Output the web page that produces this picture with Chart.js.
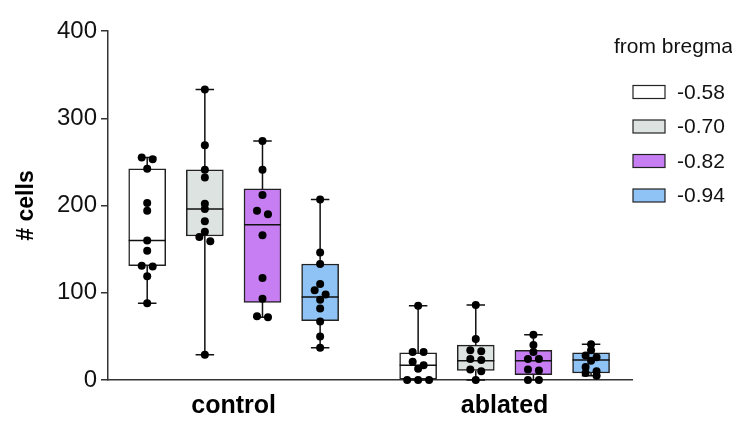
<!DOCTYPE html>
<html>
<head>
<meta charset="utf-8">
<script src="https://cdn.jsdelivr.net/npm/chart.js@4.4.1/dist/chart.umd.min.js"></script>
<style>
  html, body { margin: 0; padding: 0; background: #fff; }
  #wrap { width: 732px; height: 428px; }
</style>
</head>
<body>
<div id="wrap"><canvas id="chart"></canvas></div>
<script>
const groups = ['control', 'ablated'];
const series = ['-0.58', '-0.70', '-0.82', '-0.94'];
const fillColors = ['#ffffff', '#dde3e0', '#c67ef2', '#8fc3f6'];

// box stats, one row per series: [control, ablated]
const mins    = [[88, 0],   [29, 0],   [72, 0],   [37, 5]];
const q1s     = [[131, 0],  [165, 11], [89, 6],   [68, 8]];
const medians = [[160, 17], [196, 22], [178, 22], [95, 23]];
const q3s     = [[242, 31], [241, 40], [219, 34], [133, 31]];
const maxs    = [[255, 85], [333, 86], [274, 52], [207, 41]];

// single animals, one row per series: [control, ablated]
const pts058 = [[255, 253, 242, 203, 194, 160, 148, 131, 130, 119, 88], [85, 32, 32, 21, 17, 13, 0, 0, 0]];
const pts070 = [[333, 269, 241, 232, 202, 196, 182, 170, 164, 159, 29], [86, 47, 34, 33, 24, 23, 12, 10, 0]];
const pts082 = [[274, 241, 212, 194, 190, 166, 117, 93, 73, 72], [52, 40, 32, 24, 24, 12, 11, 0, 0]];
const pts094 = [[207, 146, 133, 110, 103, 98, 92, 82, 67, 50, 37], [41, 34, 28, 26, 22, 15, 10, 8, 5]];
const points = [pts058, pts070, pts082, pts094];

const groupStep = 4.7;
const slot = (g, s) => g * groupStep + s;
const font = '"Liberation Sans", Arial, sans-serif';

// spread points of near-equal value side by side
function swarm(values, cx) {
    const sorted = values.slice().sort((a, b) => b - a);
    const rows = [];
    sorted.forEach(v => {
        const row = rows[rows.length - 1];
        if (row && row[0] - v < 5.5) row.push(v);
        else rows.push([v]);
    });
    const out = [];
    rows.forEach(row => {
        row.forEach((v, k) => out.push({ x: cx + (k - (row.length - 1) / 2) * 0.19, y: v }));
    });
    return out;
}

const boxDatasets = series.map((name, s) => ({
    type: 'bar',
    label: name,
    order: 1,
    data: groups.map((g, gi) => ({ x: slot(gi, s), y: [q1s[s][gi], q3s[s][gi]] })),
    backgroundColor: fillColors[s],
    borderColor: '#222',
    borderWidth: 1.5,
    borderSkipped: false,
    barThickness: 37,
    grouped: false
}));

const dotDatasets = series.map((name, s) => ({
    type: 'scatter',
    label: name + ' animals',
    order: 0,
    clip: false,
    data: groups.flatMap((g, gi) => swarm(points[s][gi], slot(gi, s))),
    pointRadius: 4,
    backgroundColor: '#000',
    borderWidth: 0
}));

const whiskers = {
    id: 'whiskers',
    afterDatasetDraw(chart, args) {
        if (args.meta.type !== 'bar') return;
        const s = series.indexOf(chart.data.datasets[args.index].label);
        if (s < 0) return;
        const y = chart.scales.y;
        const ctx = chart.ctx;
        ctx.save();
        ctx.strokeStyle = '#111';
        ctx.lineWidth = 1.5;
        args.meta.data.forEach((bar, gi) => {
            const x = bar.x, half = bar.width / 2;
            const yMin = y.getPixelForValue(mins[s][gi]);
            const yMax = y.getPixelForValue(maxs[s][gi]);
            const yQ1 = y.getPixelForValue(q1s[s][gi]);
            const yQ3 = y.getPixelForValue(q3s[s][gi]);
            const yMed = y.getPixelForValue(medians[s][gi]);
            ctx.beginPath();
            ctx.moveTo(x, yQ3); ctx.lineTo(x, yMax);
            ctx.moveTo(x, yQ1); ctx.lineTo(x, yMin);
            ctx.moveTo(x - half / 2, yMax); ctx.lineTo(x + half / 2, yMax);
            ctx.moveTo(x - half / 2, yMin); ctx.lineTo(x + half / 2, yMin);
            ctx.moveTo(x - half, yMed); ctx.lineTo(x + half, yMed);
            ctx.stroke();
        });
        ctx.restore();
    }
};

const sideLegend = {
    id: 'sideLegend',
    afterDraw(chart) {
        const ctx = chart.ctx;
        ctx.save();
        ctx.textBaseline = 'middle';
        ctx.textAlign = 'left';
        ctx.fillStyle = '#111';
        ctx.font = '21px ' + font;
        ctx.fillText('from bregma', 614, 47);
        series.forEach((name, s) => {
            const cy = 92 + s * 34.5;
            ctx.fillStyle = fillColors[s];
            ctx.fillRect(633, cy - 6.5, 32, 13);
            ctx.strokeStyle = '#222';
            ctx.lineWidth = 1.2;
            ctx.strokeRect(633, cy - 6.5, 32, 13);
            ctx.fillStyle = '#111';
            ctx.fillText(name, 677, cy + 1);
        });
        ctx.restore();
    }
};

new Chart(document.getElementById('chart'), {
    type: 'bar',
    data: { datasets: [...dotDatasets, ...boxDatasets] },
    plugins: [whiskers, sideLegend],
    options: {
        responsive: true,
        maintainAspectRatio: false,
        animation: false,
        events: [],
        layout: { padding: { top: 31, right: 100, bottom: 0, left: 0 } },
        plugins: { legend: { display: false }, tooltip: { enabled: false } },
        scales: {
            x: {
                type: 'linear',
                offset: false,
                min: -0.68,
                max: 8.41,
                afterBuildTicks: scale => {
                    scale.ticks = groups.map((g, gi) => ({ value: slot(gi, 1.5) }));
                },
                afterFit: scale => { scale.height = 48; },
                grid: { display: false, drawTicks: false },
                border: { display: true, color: '#333', width: 1.5 },
                ticks: {
                    autoSkip: false,
                    maxRotation: 0,
                    padding: 11,
                    color: '#000',
                    font: { family: font, size: 25, weight: 'bold' },
                    callback: (v, i) => groups[i]
                }
            },
            y: {
                min: 0,
                max: 400,
                afterFit: scale => { scale.width = 108; },
                grid: { drawOnChartArea: false, tickLength: 7, color: '#333', lineWidth: 1.5 },
                border: { display: true, color: '#333', width: 1.5 },
                ticks: {
                    stepSize: 100,
                    padding: 4,
                    color: '#111',
                    font: { family: font, size: 24 }
                },
                title: {
                    display: true,
                    text: '# cells',
                    color: '#000',
                    padding: { top: 13, bottom: 0 },
                    font: { family: font, size: 23, weight: 'bold' }
                }
            }
        }
    }
});
</script>
</body>
</html>
